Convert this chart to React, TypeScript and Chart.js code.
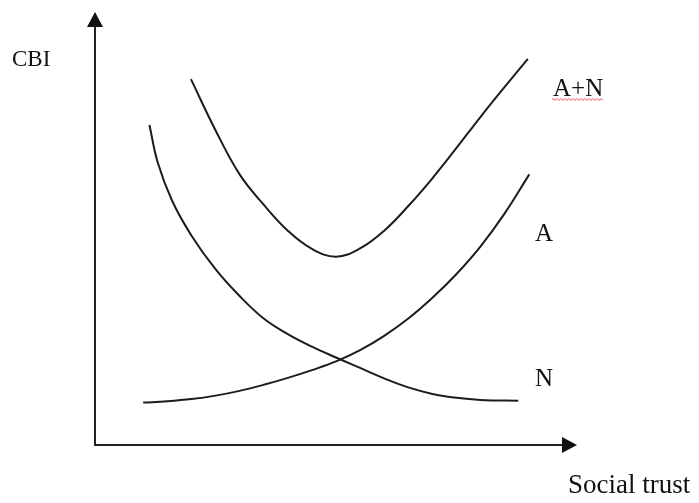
import React, { useEffect, useRef } from "react";
import { Chart, registerables } from "chart.js";

Chart.register(...registerables);

// Social trust (x) and CBI (y) values, conceptual units 0..10
const nTrust = [1.13, 1.3, 1.6, 2.0, 2.5, 3.0, 3.5, 4.0, 4.5, 5.0, 5.5, 6.0, 6.5, 7.0, 7.5, 8.0, 8.78];
const nCBI = [7.39, 6.53, 5.64, 4.84, 4.06, 3.44, 2.92, 2.56, 2.27, 2.02, 1.78, 1.54, 1.33, 1.18, 1.09, 1.04, 1.02];

const aTrust = [1.0, 1.5, 2.0, 2.5, 3.0, 3.5, 4.0, 4.5, 5.0, 5.5, 6.0, 6.5, 7.0, 7.5, 8.0, 8.5, 9.01];
const aCBI = [0.98, 1.01, 1.06, 1.14, 1.25, 1.39, 1.55, 1.73, 1.93, 2.19, 2.52, 2.92, 3.4, 3.95, 4.59, 5.35, 6.25];

const anTrust = [1.99, 2.5, 3.0, 3.5, 4.0, 4.5, 5.0, 5.5, 6.0, 6.5, 7.0, 7.5, 8.0, 8.5, 8.98];
const anCBI = [8.45, 7.27, 6.25, 5.55, 4.95, 4.53, 4.35, 4.54, 4.95, 5.52, 6.16, 6.86, 7.58, 8.27, 8.92];

const seriesNames = ["A+N", "A", "N"];
const xTitle = "Social trust";
const yTitle = "CBI";

const toPoints = (xs: number[], ys: number[]) => xs.map((x, i) => ({ x, y: ys[i] }));

const LINE = "#1c1c1c";
const TEXT = "#111111";
const SERIF = '"Liberation Serif", "Times New Roman", serif';

const decorPlugin = {
  id: "decor",
  afterDraw(chart: any) {
    const { ctx, chartArea } = chart;
    const { left, right, top, bottom } = chartArea;
    ctx.save();
    // axes
    ctx.strokeStyle = "#222222";
    ctx.fillStyle = "#111111";
    ctx.lineWidth = 2;
    ctx.beginPath();
    ctx.moveTo(left, bottom + 1);
    ctx.lineTo(left, top + 12);
    ctx.moveTo(left - 1, bottom);
    ctx.lineTo(right - 12, bottom);
    ctx.stroke();
    // arrow heads
    ctx.beginPath();
    ctx.moveTo(left, top);
    ctx.lineTo(left - 8, top + 15);
    ctx.lineTo(left + 8, top + 15);
    ctx.closePath();
    ctx.fill();
    ctx.beginPath();
    ctx.moveTo(right, bottom);
    ctx.lineTo(right - 15, bottom - 8);
    ctx.lineTo(right - 15, bottom + 8);
    ctx.closePath();
    ctx.fill();

    // texts
    ctx.fillStyle = TEXT;
    ctx.textBaseline = "alphabetic";
    ctx.textAlign = "left";
    ctx.font = `23px ${SERIF}`;
    ctx.fillText(yTitle, 12, 66);
    ctx.font = `27px ${SERIF}`;
    ctx.fillText(xTitle, 568, 493);

    ctx.font = `25px ${SERIF}`;
    ctx.fillText(seriesNames[0], 553, 96);
    ctx.fillText(seriesNames[1], 535, 241);
    ctx.fillText(seriesNames[2], 535, 386);

    // red spell-check squiggle under A+N
    const w = ctx.measureText(seriesNames[0]).width;
    ctx.strokeStyle = "#e8474c";
    ctx.lineWidth = 1;
    ctx.beginPath();
    let up = true;
    ctx.moveTo(553, 100);
    for (let x = 553; x <= 553 + w; x += 2) {
      ctx.lineTo(x, up ? 98.5 : 100.5);
      up = !up;
    }
    ctx.stroke();
    ctx.restore();
  },
};

export default function App() {
  const ref = useRef<HTMLCanvasElement | null>(null);
  useEffect(() => {
    if (!ref.current) return;
    const common = {
      borderColor: LINE,
      borderWidth: 2,
      pointRadius: 0,
      fill: false,
      tension: 0.4,
      clip: false as any,
    };
    const chart = new Chart(ref.current, {
      type: "line",
      data: {
        datasets: [
          { label: seriesNames[0], data: toPoints(anTrust, anCBI), ...common },
          { label: seriesNames[1], data: toPoints(aTrust, aCBI), ...common },
          { label: seriesNames[2], data: toPoints(nTrust, nCBI), ...common },
        ],
      },
      options: {
        responsive: false,
        animation: false,
        layout: { padding: { left: 95, right: 122, top: 12, bottom: 58 } },
        scales: {
          x: { type: "linear", min: 0, max: 10, display: false },
          y: { type: "linear", min: 0, max: 10, display: false },
        },
        plugins: { legend: { display: false }, tooltip: { enabled: false } },
        events: [],
      },
      plugins: [decorPlugin],
    });
    return () => chart.destroy();
  }, []);
  return (
    <div style={{ position: "fixed", left: 0, top: 0, width: 699, height: 503, background: "#ffffff" }}>
      <canvas ref={ref} width={699} height={503} style={{ display: "block" }} />
    </div>
  );
}
